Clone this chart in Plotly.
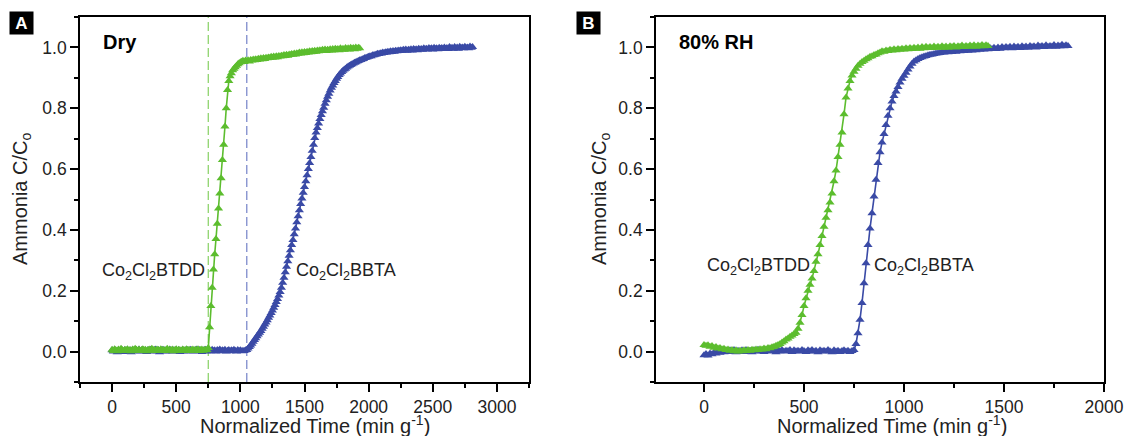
import numpy as np
import plotly.graph_objects as go

# ---------------- data ----------------
time_step = 10  # min g^-1 between successive readings

# Panel A (Dry)
dry_btdd = [
    0.006,0.002,0.008,0.004,0.001,0.007,0.003,0.009,0.005,0.002,
    0.006,0.004,0.008,0.003,0.005,0.001,0.007,0.004,0.009,0.006,
    0.003,0.007,0.002,0.005,0.008,0.004,0.006,0.001,0.005,0.007,
    0.003,0.009,0.004,0.006,0.002,0.007,0.005,0.003,0.008,0.004,
    0.006,0.002,0.005,0.009,0.003,0.006,0.004,0.007,0.001,0.005,
    0.008,0.003,0.006,0.004,0.002,0.007,0.005,0.003,0.008,0.004,
    0.006,0.002,0.005,0.007,0.003,0.006,0.004,0.008,0.002,0.005,
    0.007,0.003,0.006,0.004,0.005,
    0.012,0.08,0.15,0.21,0.27,0.32,0.37,0.42,0.47,0.52,0.57,0.63,0.68,
    0.74,0.80,0.86,0.89,0.905,0.915,0.925,0.93,0.935,0.94,0.945,0.948,0.951,
    0.953,0.956,0.952,0.957,0.955,0.958,0.954,0.959,0.957,0.960,
    0.958,0.961,0.959,0.963,0.960,0.964,0.961,0.965,0.962,0.966,
    0.964,0.967,0.965,0.969,0.966,0.970,0.967,0.971,0.968,0.972,
    0.970,0.973,0.971,0.975,0.972,0.976,0.973,0.977,0.975,0.978,
    0.976,0.980,0.977,0.981,0.979,0.983,0.980,0.984,0.981,0.985,
    0.982,0.986,0.983,0.987,0.984,0.988,0.985,0.989,0.986,0.990,
    0.987,0.991,0.988,0.992,0.989,0.993,0.988,0.992,0.990,0.994,
    0.990,0.995,0.991,0.996,0.992,0.995,0.991,0.997,0.993,0.996,
    0.992,0.998,0.994,0.997,0.993,0.999,0.995,0.998,0.994,1.000,
    0.996,0.999,0.997,
]
dry_bbta = [
    0.004,0.000,0.006,0.002,-0.002,0.005,0.001,0.007,0.003,-0.001,
    0.005,0.002,0.006,0.000,0.004,-0.002,0.006,0.003,0.001,0.005,
    0.002,0.007,0.000,0.004,0.006,0.001,0.003,-0.001,0.005,0.002,
    0.006,0.000,0.004,0.002,0.007,0.001,0.005,-0.002,0.003,0.006,
    0.001,0.004,0.000,0.005,0.002,0.007,0.003,0.000,0.004,0.001,
    0.006,0.002,0.005,-0.001,0.003,0.006,0.000,0.004,0.002,0.005,
    0.001,0.006,0.003,0.000,0.004,0.002,0.007,0.001,0.005,0.003,
    -0.001,0.004,0.002,0.006,0.000,0.005,0.003,0.001,0.006,0.002,
    0.004,0.000,0.005,0.003,0.007,0.001,0.004,0.002,0.006,0.000,
    0.003,0.005,0.001,0.004,0.002,0.006,0.003,0.000,0.005,0.002,
    0.004,0.001,0.003,0.002,0.004,
    0.005,0.010,0.015,0.020,0.026,0.032,0.038,0.044,0.050,0.056,
    0.062,0.068,0.075,0.082,0.089,0.096,0.103,0.111,0.119,0.127,
    0.135,0.144,0.153,0.163,0.173,0.184,0.196,0.210,0.226,0.243,
    0.261,0.279,0.297,0.315,0.333,0.350,0.367,0.386,0.405,0.425,
    0.445,0.465,0.485,0.503,0.522,0.541,0.560,0.580,0.600,0.620,
    0.640,0.660,0.680,0.702,0.720,0.735,0.750,0.765,0.778,0.790,
    0.802,0.815,0.826,0.838,0.848,0.858,0.867,0.875,0.883,0.890,
    0.897,0.903,0.909,0.914,0.919,0.923,0.927,0.930,0.934,
    0.937,0.940,0.942,0.945,0.947,0.950,0.951,0.954,0.955,0.958,
    0.959,0.961,0.962,0.965,0.966,0.968,0.969,0.971,0.971,0.974,
    0.974,0.976,0.977,0.979,0.978,0.981,0.980,0.983,0.982,0.984,
    0.983,0.986,0.984,0.987,0.985,0.988,0.986,0.989,0.987,0.990,
    0.988,0.991,0.989,0.992,0.990,0.993,0.989,0.992,0.991,0.994,
    0.990,0.995,0.992,0.994,0.991,0.996,0.993,0.995,0.992,0.997,
    0.994,0.996,0.993,0.998,0.995,0.997,0.993,0.999,0.995,0.997,
    0.994,0.999,0.996,0.998,0.995,1.000,0.996,0.998,0.995,1.001,
    0.997,0.999,0.996,1.001,0.997,1.000,0.996,1.002,0.998,1.000,
    0.997,1.002,0.998,1.000,0.997,1.003,0.999,1.001,
]
dry_breakthrough = {"BTDD": 750, "BBTA": 1050}

# Panel B (80% RH)
wet_btdd = [
    0.022,0.019,0.021,0.016,0.018,0.013,0.015,0.010,0.012,0.008,
    0.009,0.005,0.007,0.003,0.005,0.001,0.004,0.000,0.003,0.001,
    0.004,0.002,0.005,0.003,0.006,0.004,0.007,0.005,0.008,0.007,
    0.010,0.008,0.012,0.011,0.014,0.016,0.019,0.022,0.025,0.030,
    0.034,0.040,0.043,0.049,0.053,0.058,0.062,0.075,0.095,0.120,
    0.150,0.175,0.200,0.220,0.240,0.265,0.295,0.320,0.350,0.380,
    0.410,0.440,0.465,0.490,0.520,0.560,0.595,0.640,0.680,0.720,
    0.780,0.835,0.865,0.890,0.908,0.920,0.930,0.940,0.946,0.952,
    0.956,0.961,0.964,0.969,0.971,0.975,0.977,0.981,0.983,0.987,
    0.986,0.990,0.988,0.992,0.990,0.994,0.991,0.995,0.992,0.996,
    0.993,0.997,0.994,0.998,0.995,0.999,0.996,1.000,0.996,1.001,
    0.997,1.002,0.998,1.001,0.998,1.003,0.999,1.002,0.999,1.004,
    1.000,1.003,0.999,1.004,1.001,1.005,1.000,1.004,1.002,1.006,
    1.001,1.005,1.002,1.006,1.003,1.007,1.002,1.006,1.004,1.008,
    1.004,1.007,1.005,
]
wet_bbta = [
    -0.012,-0.008,-0.013,-0.006,-0.009,-0.003,-0.006,0.000,-0.004,0.002,
    -0.002,0.003,-0.001,0.004,0.000,0.005,-0.002,0.003,0.001,0.004,
    -0.001,0.005,0.001,0.003,-0.002,0.004,0.000,0.006,0.001,0.003,
    -0.001,0.004,0.002,0.005,0.000,0.003,-0.002,0.004,0.001,0.005,
    0.000,0.003,0.002,0.005,-0.001,0.004,0.001,0.003,0.000,0.005,
    0.002,-0.001,0.004,0.001,0.005,0.000,0.003,-0.002,0.004,0.001,
    0.003,0.000,0.005,0.001,-0.002,0.004,0.000,0.003,-0.001,0.002,
    0.004,0.000,0.003,-0.001,0.002,0.005,0.025,0.060,0.105,0.160,
    0.225,0.290,0.350,0.405,0.455,0.510,0.565,0.620,0.655,0.687,
    0.715,0.745,0.775,0.800,0.822,0.840,0.855,0.870,0.885,0.897,
    0.907,0.917,0.927,0.937,0.946,0.954,0.958,0.962,0.965,0.968,
    0.970,0.972,0.974,0.976,0.977,0.978,0.980,0.981,0.982,0.984,
    0.983,0.986,0.984,0.987,0.985,0.988,0.986,0.989,0.987,0.990,
    0.988,0.991,0.989,0.993,0.990,0.994,0.991,0.995,0.992,0.996,
    0.993,0.997,0.994,0.998,0.995,0.999,0.995,1.000,0.996,1.001,
    0.997,1.001,0.998,1.002,0.997,1.003,0.999,1.002,0.998,1.004,
    1.000,1.003,0.999,1.005,1.001,1.004,1.000,1.006,1.002,1.005,
    1.001,1.007,1.002,1.005,1.003,1.008,1.002,1.006,1.004,1.009,
    1.004,1.007,1.005,
]

x_ticks_a = [0, 500, 1000, 1500, 2000, 2500, 3000]
x_ticks_b = [0, 500, 1000, 1500, 2000]
y_ticks = [0.0, 0.2, 0.4, 0.6, 0.8, 1.0]

GREEN = "#5cbd2e"
BLUE = "#3a4aa6"
GREEN_DASH = "#8fd46e"
BLUE_DASH = "#7e8bcc"

W, H = 1126, 436
def px_x(p): return p / W
def px_y(p): return 1 - p / H

FONT = "Liberation Sans, Arial, Helvetica, sans-serif"

fig = go.Figure()

def add_series(y, color, xa, ya, name):
    t = time_step * np.arange(len(y))
    fig.add_trace(go.Scatter(
        x=t, y=y, mode="lines+markers", name=name, xaxis=xa, yaxis=ya,
        line=dict(color=color, width=1.6),
        marker=dict(symbol="triangle-up", size=8, color=color, line=dict(width=0)),
        showlegend=False, hoverinfo="skip"))

add_series(dry_bbta, BLUE, "x", "y", "Co2Cl2BBTA")
add_series(dry_btdd, GREEN, "x", "y", "Co2Cl2BTDD")
add_series(wet_bbta, BLUE, "x2", "y2", "Co2Cl2BBTA")
add_series(wet_btdd, GREEN, "x2", "y2", "Co2Cl2BTDD")

ax_common = dict(
    showline=True, linecolor="black", linewidth=1.6, mirror=True,
    ticks="outside", ticklen=8, tickwidth=1.5, tickcolor="black",
    showgrid=False, zeroline=False, automargin=False,
    tickfont=dict(family=FONT, size=17.5, color="#222"),
)
def minor(d):
    return dict(ticks="outside", ticklen=4, tickwidth=1.5, tickcolor="black",
                dtick=d, tick0=0, showgrid=False)

fig.update_layout(
    width=W, height=H,
    margin=dict(l=0, r=0, t=0, b=0, autoexpand=False),
    paper_bgcolor="white", plot_bgcolor="white",
    xaxis=dict(domain=[px_x(80), px_x(529)], range=[-250, 3250], anchor="y",
               tickvals=x_ticks_a, minor=minor(250), **ax_common),
    yaxis=dict(domain=[px_y(382), px_y(17)], range=[-0.1, 1.1], anchor="x",
               tickvals=y_ticks, tickformat=".1f", minor=minor(0.1), **ax_common),
    xaxis2=dict(domain=[px_x(656), px_x(1104)], range=[-240, 2000], anchor="y2",
                tickvals=x_ticks_b, minor=minor(250), **ax_common),
    yaxis2=dict(domain=[px_y(382), px_y(17)], range=[-0.1, 1.1], anchor="x2",
                tickvals=y_ticks, tickformat=".1f", minor=minor(0.1), **ax_common),
)

# dashed breakthrough markers (panel A)
for key, col in (("BTDD", GREEN_DASH), ("BBTA", BLUE_DASH)):
    v = dry_breakthrough[key]
    fig.add_shape(type="line", xref="x", yref="y domain", x0=v, x1=v, y0=0, y1=1,
                  line=dict(color=col, width=1.3, dash="9px,4px"), layer="below")

ann = []
def text(x, y, s, size=18, color="#222", **kw):
    ann.append(dict(x=px_x(x), y=px_y(y), xref="paper", yref="paper", text=s,
                    showarrow=False, font=dict(family=FONT, size=size, color=color),
                    xanchor="center", yanchor="middle", **kw))

# axis titles
text(315, 424.5, "Normalized Time (min g<sup>-1</sup>)", size=20)
text(892, 424.5, "Normalized Time (min g<sup>-1</sup>)", size=20)
text(21, 199, "Ammonia C/C<sub>o</sub>", size=20, textangle=-90)
text(600, 199, "Ammonia C/C<sub>o</sub>", size=20, textangle=-90)

# condition labels
text(120, 42, "<b>Dry</b>", size=20, color="black")
text(715.5, 42, "<b>80% RH</b>", size=20, color="black")

# series labels
text(153.5, 271, "Co<sub>2</sub>Cl<sub>2</sub>BTDD")
text(346, 271, "Co<sub>2</sub>Cl<sub>2</sub>BBTA")
text(758.5, 266, "Co<sub>2</sub>Cl<sub>2</sub>BTDD")
text(924, 266, "Co<sub>2</sub>Cl<sub>2</sub>BBTA")

# panel letters
for lx, letter in ((21.5, "A"), (588.5, "B")):
    ann.append(dict(x=px_x(lx), y=px_y(23), xref="paper", yref="paper",
                    text=f"<b>{letter}</b>", showarrow=False, bgcolor="black",
                    width=23, height=22, borderpad=0,
                    font=dict(family=FONT, size=17, color="white"),
                    xanchor="center", yanchor="middle"))

fig.update_layout(annotations=ann)

fig.write_html("out.html", config={"displayModeBar": False},
               post_script="document.body.style.margin='0';")
